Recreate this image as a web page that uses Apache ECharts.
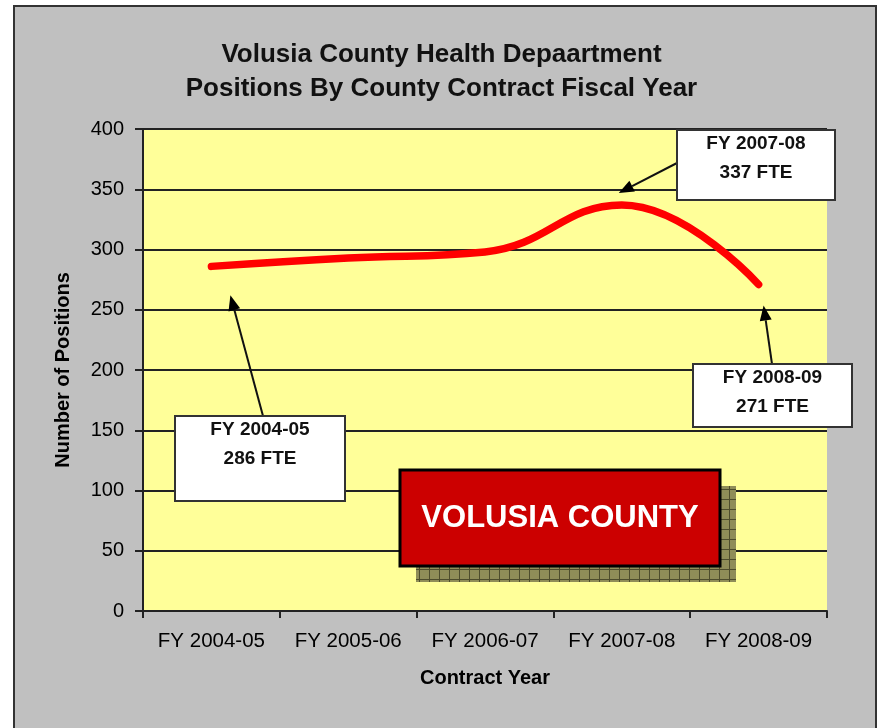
<!DOCTYPE html>
<html>
<head>
<meta charset="utf-8">
<script src="https://cdn.jsdelivr.net/npm/echarts@6/dist/echarts.min.js"></script>
<style>
  html, body { margin: 0; padding: 0; background: #fff; }
  #main { width: 883px; height: 728px; }
</style>
</head>
<body>
<div id="main"></div>
<script>
// data
const categories = ['FY 2004-05', 'FY 2005-06', 'FY 2006-07', 'FY 2007-08', 'FY 2008-09'];
const positions = [286, 293, 298, 337, 271];
const yMin = 0, yMax = 400, yStep = 50;
// which points get a callout box
const calloutIdx = [0, 3, 4];

const FONT = '"Liberation Sans", Arial, sans-serif';

const chart = echarts.init(document.getElementById('main'));

chart.setOption({
  backgroundColor: '#fff',
  animation: false,
  title: {
    text: 'Volusia County Health Depaartment\nPositions By County Contract Fiscal Year',
    left: 'center',
    top: 33,
    textStyle: {
      fontFamily: FONT,
      fontSize: 26,
      fontWeight: 'bold',
      color: '#111',
      lineHeight: 34,
    },
  },
  grid: {
    left: 143,
    right: 56,
    top: 129,
    bottom: 117,
    show: true,
    backgroundColor: '#ffff99',
    borderWidth: 0,
  },
  xAxis: {
    type: 'category',
    data: categories,
    boundaryGap: true,
    name: 'Contract Year',
    nameLocation: 'middle',
    nameGap: 57,
    nameTextStyle: { fontFamily: FONT, fontSize: 20, fontWeight: 'bold', color: '#000' },
    axisLine: { lineStyle: { color: '#222', width: 2 } },
    axisTick: { show: true, interval: 0, alignWithLabel: false, length: 7, lineStyle: { color: '#222', width: 2 } },
    axisLabel: { interval: 0, hideOverlap: false, fontFamily: FONT, fontSize: 20.5, color: '#000', margin: 20 },
    splitLine: { show: false },
  },
  yAxis: {
    type: 'value',
    min: yMin,
    max: yMax,
    interval: yStep,
    name: 'Number of Positions',
    nameLocation: 'middle',
    nameGap: 70,
    nameTextStyle: { fontFamily: FONT, fontSize: 20, fontWeight: 'bold', color: '#000' },
    axisLine: { show: true, lineStyle: { color: '#222', width: 2 } },
    axisTick: { show: true, length: 8, lineStyle: { color: '#222', width: 2 } },
    axisLabel: { fontFamily: FONT, fontSize: 20, color: '#000', margin: 19 },
    splitLine: { show: true, lineStyle: { color: '#222', width: 2 } },
  },
  series: [{
    type: 'line',
    data: positions,
    smooth: 0.45,
    symbol: 'none',
    lineStyle: { color: '#ff0000', width: 7.5, cap: 'round' },
    z: 3,
  }],
});

// --- annotations: boxes and arrows, tips hooked to the plotted points ---
const boxes = {
  0: { x: 175, y: 416, w: 170, h: 85, from: [263, 416], off: [19, 29] },
  3: { x: 677, y: 130, w: 158, h: 70, from: [677, 163], off: [-3, -12] },
  4: { x: 693, y: 364, w: 159, h: 63, from: [772, 364], off: [5, 21] },
};

function arrowEls(from, tip) {
  const dx = tip[0] - from[0], dy = tip[1] - from[1];
  const len = Math.sqrt(dx * dx + dy * dy);
  const ux = dx / len, uy = dy / len;
  const hl = 15, hw = 6;
  const bx = tip[0] - ux * hl, by = tip[1] - uy * hl;
  return [
    { type: 'line', z: 20, shape: { x1: from[0], y1: from[1], x2: bx, y2: by },
      style: { stroke: '#111', lineWidth: 2 } },
    { type: 'polygon', z: 20, shape: { points: [
        tip,
        [bx - uy * hw, by + ux * hw],
        [bx + uy * hw, by - ux * hw],
      ] }, style: { fill: '#000' } },
  ];
}

// shadow pattern for the "VOLUSIA COUNTY" label
const pat = document.createElement('canvas');
pat.width = 10; pat.height = 10;
const pc = pat.getContext('2d');
pc.fillStyle = '#8f8d58';
pc.fillRect(0, 0, 10, 10);
pc.fillStyle = '#4d4c2c';
pc.fillRect(9, 0, 1, 10);
pc.fillRect(0, 9, 10, 1);

const gfx = [
  { type: 'rect', z: -1, shape: { x: 14, y: 6, width: 862, height: 740 },
    style: { fill: '#c0c0c0', stroke: '#333', lineWidth: 2 } },
  { type: 'rect', z: 15, shape: { x: 416, y: 486, width: 320, height: 96 },
    style: { fill: { image: pat, repeat: 'repeat' } } },
  { type: 'rect', z: 16, shape: { x: 400, y: 470, width: 320, height: 96 },
    style: { fill: '#cc0000', stroke: '#000', lineWidth: 3 } },
  { type: 'text', z: 17, style: { x: 560, y: 518, text: 'VOLUSIA COUNTY', fill: '#fff',
    font: 'bold 31px ' + FONT, textAlign: 'center', textVerticalAlign: 'middle' } },
];

calloutIdx.forEach(function (i) {
  const b = boxes[i];
  const p = chart.convertToPixel({ seriesIndex: 0 }, [i, positions[i]]);
  const tip = [p[0] + b.off[0], p[1] + b.off[1]];
  gfx.push.apply(gfx, arrowEls(b.from, tip));
  gfx.push({ type: 'rect', z: 21, shape: { x: b.x, y: b.y, width: b.w, height: b.h },
    style: { fill: '#fff', stroke: '#333', lineWidth: 2 } });
  gfx.push({ type: 'text', z: 22, style: {
    x: b.x + b.w / 2, y: b.y - 1,
    text: categories[i] + '\n' + positions[i] + ' FTE',
    fill: '#111', font: 'bold 19px ' + FONT, lineHeight: 29,
    textAlign: 'center', textVerticalAlign: 'top' } });
});

chart.setOption({ graphic: gfx });
</script>
</body>
</html>
